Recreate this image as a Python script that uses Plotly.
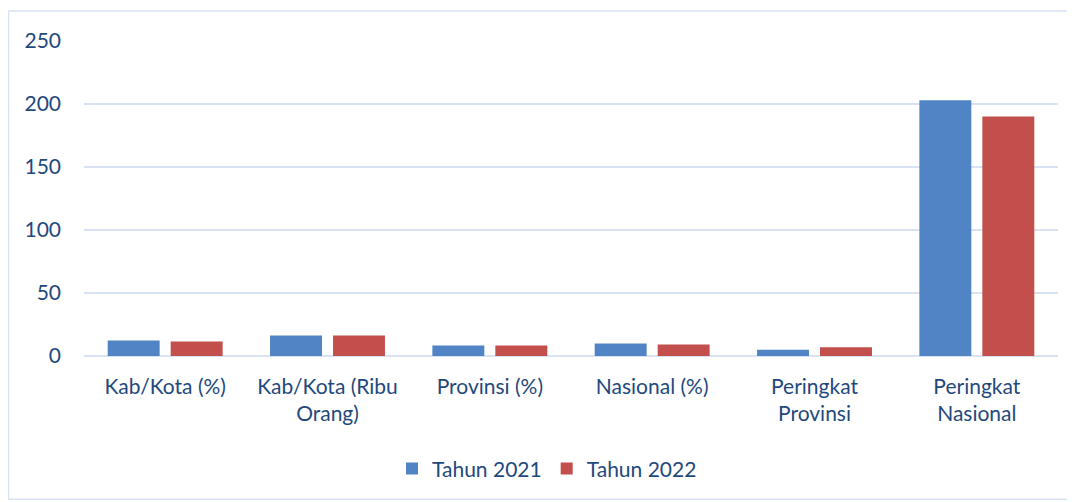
import plotly.graph_objects as go

categories = ["Kab/Kota (%)", "Kab/Kota (Ribu<br>Orang)", "Provinsi (%)", "Nasional (%)",
              "Peringkat<br>Provinsi", "Peringkat<br>Nasional"]
tahun_2021 = [12.3, 16.2, 8.3, 9.9, 5, 203]
tahun_2022 = [11.5, 16.2, 8.3, 9.1, 7, 190]
y_ticks = [0, 50, 100, 150, 200, 250]

text_color = "#1F497D"
grid_color = "#D9E2F3"
FONT = "Lato, Calibri, Carlito, sans-serif"

fig = go.Figure()
fig.add_trace(go.Bar(name="Tahun 2021", x=categories, y=tahun_2021,
                     marker=dict(color="#5184C4", line=dict(width=0))))
fig.add_trace(go.Bar(name="Tahun 2022", x=categories, y=tahun_2022,
                     marker=dict(color="#C24F4C", line=dict(width=0))))

# page is offset by the 8px default body margin
OFF = 8
W, H = 1075, 502
L = 84 - OFF
T = 41 - OFF
plot_right = 1058 - OFF
plot_bottom = 356.5 - OFF
R = W - plot_right
B = H - plot_bottom
pw = plot_right - L
ph = plot_bottom - T

fig.update_layout(
    width=W, height=H,
    margin=dict(l=L, r=R, t=T, b=B, autoexpand=False),
    paper_bgcolor="white", plot_bgcolor="white",
    barmode="group", bargap=0.224, bargroupgap=0.175,
    font=dict(family=FONT, size=21, color=text_color),
    showlegend=True,
    legend=dict(orientation="h", x=(539 - L) / pw, xanchor="center",
                y=(plot_bottom - 441) / ph, yanchor="top",
                font=dict(size=21, color=text_color),
                itemwidth=30, traceorder="normal"),
    xaxis=dict(showgrid=False, showline=False, ticks="", zeroline=False,
               tickfont=dict(size=21, color=text_color), ticklabelstandoff=16),
    yaxis=dict(range=[0, 250], tickvals=y_ticks, showgrid=True, gridcolor=grid_color,
               gridwidth=1.5, zeroline=True, zerolinecolor=grid_color, zerolinewidth=2,
               showline=False, ticks="", tickfont=dict(size=21, color=text_color),
               ticklabelstandoff=22),
)

# outer chart frame
fig.add_shape(type="rect", xref="paper", yref="paper",
              x0=(8 - OFF - L + 0.5) / pw, x1=(1068 - OFF - L) / pw,
              y0=(plot_bottom - (500 - OFF)) / ph, y1=(plot_bottom - (11 - OFF)) / ph,
              line=dict(color=grid_color, width=1.5), fillcolor="rgba(0,0,0,0)", layer="below")

fig.write_html("out.html")
